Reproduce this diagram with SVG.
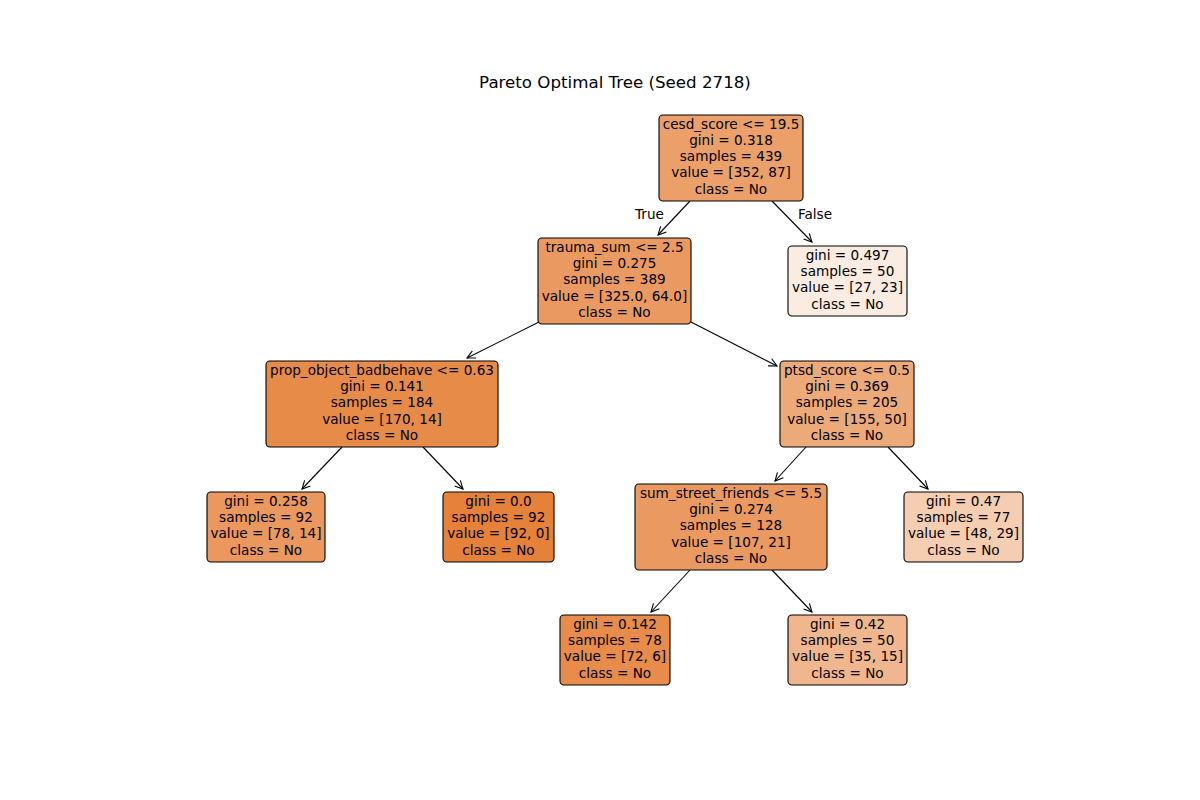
<svg xmlns="http://www.w3.org/2000/svg" width="1200" height="800" viewBox="0 0 1200 800">
<defs>
<style>
text{font-family:"DejaVu Sans","Liberation Sans",sans-serif;font-size:13.6px;fill:#000;text-anchor:middle}
.title{font-size:16.67px}
.box{stroke:#000;stroke-width:1.1}
.edge{stroke:#000;stroke-width:1.1;fill:none;marker-end:url(#arr)}
</style>
<marker id="arr" markerUnits="userSpaceOnUse" markerWidth="12" markerHeight="12" refX="10" refY="6" orient="auto" viewBox="0 0 12 12">
<path d="M2,2 L10,6 L2,10" fill="none" stroke="#000" stroke-width="1.1"/>
</marker>
</defs>
<rect width="1200" height="800" fill="#fff"/>
<text class="title" x="615" y="88">Pareto Optimal Tree (Seed 2718)</text>

<g id="edges">
<line class="edge" x1="690" y1="201" x2="658" y2="235"/>
<line class="edge" x1="772" y1="201" x2="812" y2="242"/>
<line class="edge" x1="539" y1="322" x2="467" y2="358"/>
<line class="edge" x1="691" y1="322" x2="777" y2="366"/>
<line class="edge" x1="342" y1="447" x2="302" y2="489"/>
<line class="edge" x1="423" y1="447" x2="463" y2="489"/>
<line class="edge" x1="806" y1="447" x2="775" y2="481"/>
<line class="edge" x1="888" y1="447" x2="928" y2="489"/>
<line class="edge" x1="690" y1="570" x2="651" y2="612"/>
<line class="edge" x1="772" y1="570" x2="812" y2="612"/>
<text x="649.5" y="219">True</text>
<text x="815" y="219">False</text>
</g>

<g id="n0">
<rect class="box" x="659" y="115" width="144" height="86" rx="4" fill="#eba06a"/>
<text x="731" y="128.7">cesd_score &lt;= 19.5</text>
<text x="731" y="144.95">gini = 0.318</text>
<text x="731" y="161.2">samples = 439</text>
<text x="731" y="177.45">value = [352, 87]</text>
<text x="731" y="193.7">class = No</text>
</g>

<g id="n1">
<rect class="box" x="538" y="238" width="153" height="86" rx="4" fill="#ea9a60"/>
<text x="614.5" y="251.7">trauma_sum &lt;= 2.5</text>
<text x="614.5" y="268">gini = 0.275</text>
<text x="614.5" y="284.2">samples = 389</text>
<text x="614.5" y="300.5">value = [325.0, 64.0]</text>
<text x="614.5" y="316.7">class = No</text>
</g>

<g id="n2">
<rect class="box" x="788" y="246" width="119" height="70" rx="4" fill="#fbece2"/>
<text x="847.5" y="259.8">gini = 0.497</text>
<text x="847.5" y="276.1">samples = 50</text>
<text x="847.5" y="292.3">value = [27, 23]</text>
<text x="847.5" y="308.6">class = No</text>
</g>

<g id="n3">
<rect class="box" x="266" y="361" width="232" height="86" rx="4" fill="#e78b49"/>
<text x="382" y="374.7">prop_object_badbehave &lt;= 0.63</text>
<text x="382" y="391">gini = 0.141</text>
<text x="382" y="407.2">samples = 184</text>
<text x="382" y="423.5">value = [170, 14]</text>
<text x="382" y="439.7">class = No</text>
</g>

<g id="n4">
<rect class="box" x="780" y="361" width="134" height="86" rx="4" fill="#edaa79"/>
<text x="847" y="374.7">ptsd_score &lt;= 0.5</text>
<text x="847" y="391">gini = 0.369</text>
<text x="847" y="407.2">samples = 205</text>
<text x="847" y="423.5">value = [155, 50]</text>
<text x="847" y="439.7">class = No</text>
</g>

<g id="n5">
<rect class="box" x="207" y="492" width="118" height="70" rx="4" fill="#ea985d"/>
<text x="266" y="505.8">gini = 0.258</text>
<text x="266" y="522.1">samples = 92</text>
<text x="266" y="538.3">value = [78, 14]</text>
<text x="266" y="554.6">class = No</text>
</g>

<g id="n6">
<rect class="box" x="443" y="492" width="111" height="70" rx="4" fill="#e58139"/>
<text x="498.5" y="505.8">gini = 0.0</text>
<text x="498.5" y="522.1">samples = 92</text>
<text x="498.5" y="538.3">value = [92, 0]</text>
<text x="498.5" y="554.6">class = No</text>
</g>

<g id="n7">
<rect class="box" x="635" y="484" width="192" height="86" rx="4" fill="#ea9a60"/>
<text x="731" y="497.7">sum_street_friends &lt;= 5.5</text>
<text x="731" y="514">gini = 0.274</text>
<text x="731" y="530.2">samples = 128</text>
<text x="731" y="546.5">value = [107, 21]</text>
<text x="731" y="562.7">class = No</text>
</g>

<g id="n8">
<rect class="box" x="904" y="492" width="119" height="70" rx="4" fill="#f5cdb1"/>
<text x="963.5" y="505.8">gini = 0.47</text>
<text x="963.5" y="522.1">samples = 77</text>
<text x="963.5" y="538.3">value = [48, 29]</text>
<text x="963.5" y="554.6">class = No</text>
</g>

<g id="n9">
<rect class="box" x="560" y="615" width="110" height="70" rx="4" fill="#e78c4a"/>
<text x="615" y="628.8">gini = 0.142</text>
<text x="615" y="645.1">samples = 78</text>
<text x="615" y="661.3">value = [72, 6]</text>
<text x="615" y="677.6">class = No</text>
</g>

<g id="n10">
<rect class="box" x="788" y="615" width="119" height="70" rx="4" fill="#f0b78e"/>
<text x="847.5" y="628.8">gini = 0.42</text>
<text x="847.5" y="645.1">samples = 50</text>
<text x="847.5" y="661.3">value = [35, 15]</text>
<text x="847.5" y="677.6">class = No</text>
</g>
</svg>
